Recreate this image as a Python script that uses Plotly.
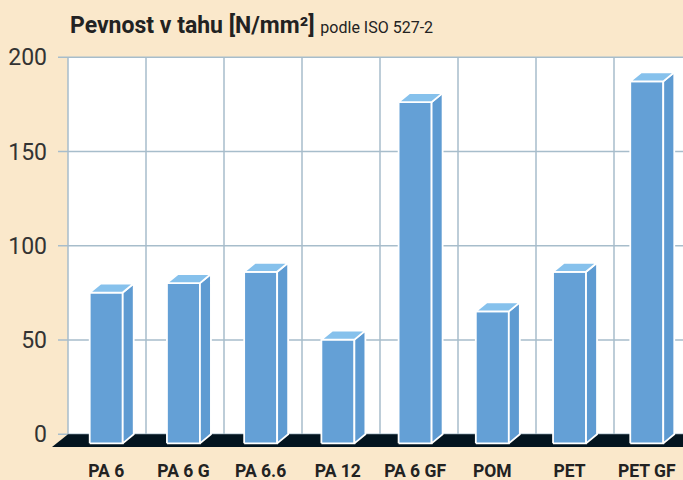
import plotly.graph_objects as go
import numpy as np

# ---- data ----
categories = ["PA 6", "PA 6 G", "PA 6.6", "PA 12", "PA 6 GF", "POM", "PET", "PET GF"]
strength = [80, 85, 91, 55, 181, 70, 91, 192]
y_ticks = [0, 50, 100, 150, 200]

# ---- style / pseudo-3D geometry (in axis units) ----
FRONT_W = 0.423
DX = 0.141
DY = 4.79
FLOOR_T = 1.9
X_MIN, X_MAX = -0.7564, 7.3846
Y_MIN, Y_MAX = -10.98, 203.87
BG = "#FAE8CB"
GRID = "#A7BDCB"
FRONT = "#64A0D6"
SIDE = "#5E9BD2"
TOP = "#86C1EC"
FLOOR = "#03141F"
FONT = "Roboto, Liberation Sans Narrow, sans-serif"

n = len(categories)
centers = [i - 0.01 * (1 + i) for i in range(n)]

fx, fy, sx, sy, tx, ty = [], [], [], [], [], []
for xc, v in zip(centers, strength):
    xl, xr = xc - FRONT_W / 2, xc + FRONT_W / 2
    fx += [xl, xr, xr, xl, xl, None]
    fy += [-DY, -DY, v - DY, v - DY, -DY, None]
    sx += [xr, xr + DX, xr + DX, xr, xr, None]
    sy += [-DY, 0, v, v - DY, -DY, None]
    tx += [xl, xr, xr + DX, xl + DX, xl, None]
    ty += [v - DY, v - DY, v, v, v - DY, None]

fig = go.Figure()

# floor slab
fig.add_trace(go.Scatter(
    x=[-0.5, X_MAX + 0.2, X_MAX + 0.2, -0.705, -0.5],
    y=[0, 0, -DY - FLOOR_T, -DY - FLOOR_T, 0],
    fill="toself", fillcolor=FLOOR, mode="lines", line=dict(width=0),
    hoverinfo="skip", showlegend=False))

for xs, ys, col in [(fx, fy, FRONT), (sx, sy, SIDE), (tx, ty, TOP)]:
    fig.add_trace(go.Scatter(
        x=xs, y=ys, fill="toself", fillcolor=col, mode="lines",
        line=dict(color="white", width=1.8), hoverinfo="skip", showlegend=False))

shapes = [dict(type="rect", xref="x", yref="y", x0=-0.5, x1=X_MAX + 0.2, y0=0, y1=200,
               fillcolor="white", line=dict(width=0), layer="below")]
for t in y_ticks:
    shapes.append(dict(type="line", xref="x", yref="y", x0=-0.5 - 10 / 78, x1=X_MAX + 0.2,
                       y0=t, y1=t, line=dict(color=GRID, width=1.5), layer="below"))
for i in range(n):
    shapes.append(dict(type="line", xref="x", yref="y", x0=i - 0.5, x1=i - 0.5,
                       y0=0, y1=200, line=dict(color=GRID, width=1.5), layer="below"))

fig.update_layout(
    width=683, height=480,
    margin=dict(l=48, r=0, t=50, b=25),
    paper_bgcolor=BG, plot_bgcolor="rgba(0,0,0,0)",
    shapes=shapes,
    font=dict(family=FONT),
    xaxis=dict(range=[X_MIN, X_MAX], showgrid=False, zeroline=False, showline=False,
               tickvals=centers, ticktext=categories, ticks="", ticklabelstandoff=3,
               tickfont=dict(size=17.5, color="#222222", family=FONT, weight="bold")),
    yaxis=dict(range=[Y_MIN, Y_MAX], showgrid=False, zeroline=False, showline=False,
               tickvals=y_ticks, ticks="",
               tickfont=dict(size=23, color="#333333", family=FONT)),
    annotations=[dict(
        xref="x", yref="paper", x=-0.5, y=1.022, xanchor="left", yanchor="bottom",
        showarrow=False,
        text="<b>Pevnost v tahu [N/mm²]</b> <span style='font-size:16px'>podle ISO 527-2</span>",
        font=dict(size=23, color="#222222", family=FONT))],
)

fig.write_html("out.html", config={"displayModeBar": False},
               post_script="document.body.style.margin='0';document.body.style.overflow='hidden';")
